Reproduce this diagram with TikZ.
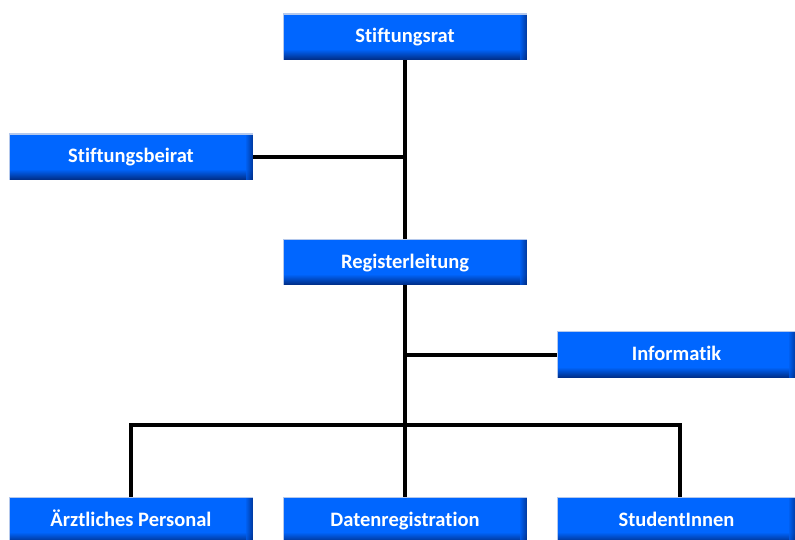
\documentclass[tikz,border=0pt]{standalone}
\usepackage{fontspec}
\setmainfont{Carlito}[Ligatures=NoCommon]
\definecolor{boxblue}{HTML}{0066FF}
\definecolor{boxdark}{HTML}{00308C}
\definecolor{boxedge}{HTML}{B4C8EC}
\tikzset{
  orgbox/.style={minimum width=244pt, minimum height=46pt, inner sep=0pt, fill=boxblue,
    text=white, font=\bfseries\fontsize{20.5}{22}\selectfont,
    text height=16pt, text depth=4pt,
    path picture={
      \foreach \i in {1,...,10} {
        \pgfmathtruncatemacro{\pc}{100-(\i-1)*10}
        \fill[boxdark!\pc!boxblue]
          ([yshift=\i pt]path picture bounding box.south west) rectangle
          ([yshift=\i pt-1pt]path picture bounding box.south east);
      }
      \foreach \i in {1,...,7} {
        \pgfmathtruncatemacro{\pc}{100-(\i-1)*14}
        \fill[boxdark!\pc!boxblue, opacity=0.75]
          ([xshift=-\i pt]path picture bounding box.north east) rectangle
          ([xshift=-\i pt+1pt]path picture bounding box.south east);
      }
      \draw[boxedge, line width=1.5pt]
        (path picture bounding box.south west) -- (path picture bounding box.north west)
        -- (path picture bounding box.north east);
    }},
  link/.style={line width=4pt, black}
}
\begin{document}
\begin{tikzpicture}[x=1pt,y=-1pt]
\useasboundingbox (0,0) rectangle (795,540);
\clip (0,0) rectangle (795,540);
\node[orgbox] (rat) at (405,37) {Stiftungsrat};
\node[orgbox] (beirat) at (131,157) {Stiftungsbeirat};
\node[orgbox] (leit) at (405,262) {Registerleitung};
\node[orgbox, minimum width=239pt] (info) at (676.5,354.5) {Informatik};
\node[orgbox] (arzt) at (131,520) {Ärztliches Personal};
\node[orgbox] (daten) at (405,520) {Datenregistration};
\node[orgbox, minimum width=239pt] (stud) at (676.5,520) {StudentInnen};
\coordinate (j1) at (rat.south |- beirat.east);
\coordinate (j2) at (leit.south |- info.west);
\coordinate (jl) at (131,425);
\coordinate (jr) at (680,425);
\draw[link] (rat.south) -- (leit.north);
\draw[link] (beirat.east) -- (j1);
\draw[link] (leit.south) -- (daten.north);
\draw[link] (j2) -- (info.west);
\draw[link, line cap=rect] (jl) -- (jr);
\draw[link] (jl) -- (jl |- arzt.north);
\draw[link] (jr) -- (jr |- stud.north);
\end{tikzpicture}
\end{document}
